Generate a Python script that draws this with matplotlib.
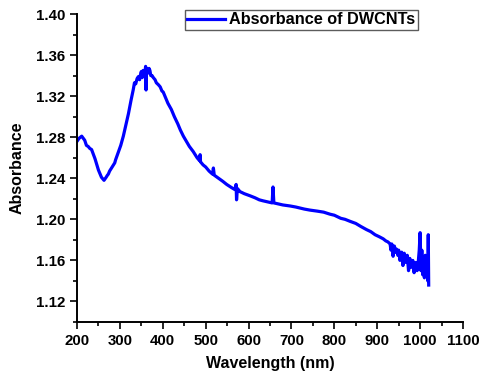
import numpy as np
import matplotlib

matplotlib.use("Agg")
import matplotlib.pyplot as plt
from matplotlib.ticker import MultipleLocator, FormatStrFormatter

plt.rcParams["font.family"] = ["Liberation Sans", "DejaVu Sans"]
plt.rcParams["font.weight"] = "bold"

# wavelength (nm) and absorbance, spikes included
wavelength = [
    200, 205, 211, 218, 222, 226, 230, 234, 242, 250, 257, 263, 268, 271, 273,
    276, 279, 285, 288, 290, 296, 302, 308, 314, 320, 326, 331, 334, 337, 340,
    343, 346, 348, 350, 352, 354, 355, 357, 358, 359, 360, 361, 362, 364, 366,
    368, 370, 372, 375, 378, 382, 385, 390, 394, 398, 401, 405, 412, 420, 427,
    435, 441, 448, 455, 462, 471, 480, 486, 487, 488, 494, 500, 508, 516, 518,
    520, 530, 540, 549, 560, 568, 571, 572, 574, 580, 590, 603, 615, 625, 634,
    645, 655, 657, 659, 670, 680, 697, 710, 720, 730, 743, 760, 775, 790, 800,
    815, 825, 837, 850, 862, 875, 885, 895, 905, 914, 920, 925, 930, 932, 934,
    937, 940, 943, 945, 948, 950, 953, 955, 957, 960, 963, 965, 967, 970, 973,
    976, 978, 980, 983, 986, 988, 990, 993, 996, 998, 1000, 1002, 1004, 1006,
    1008, 1010, 1012, 1014, 1016, 1018, 1019, 1020,
]
absorbance = [
    1.276, 1.279, 1.281, 1.277, 1.272, 1.271, 1.269, 1.268, 1.259, 1.248,
    1.241, 1.238, 1.241, 1.243, 1.244, 1.247, 1.249, 1.253, 1.255, 1.258,
    1.265, 1.272, 1.281, 1.292, 1.303, 1.316, 1.326, 1.333, 1.332, 1.337,
    1.339, 1.336, 1.341, 1.344, 1.338, 1.345, 1.344, 1.339, 1.342, 1.346,
    1.349, 1.326, 1.347, 1.342, 1.343, 1.347, 1.345, 1.340, 1.340, 1.338,
    1.336, 1.333, 1.331, 1.329, 1.325, 1.324, 1.320, 1.313, 1.307, 1.300,
    1.293, 1.287, 1.281, 1.276, 1.271, 1.266, 1.260, 1.257, 1.263, 1.256,
    1.253, 1.251, 1.247, 1.244, 1.250, 1.243, 1.240, 1.237, 1.234, 1.231,
    1.229, 1.234, 1.219, 1.230, 1.227, 1.225, 1.223, 1.221, 1.219, 1.218,
    1.217, 1.216, 1.2315, 1.216, 1.215, 1.214, 1.213, 1.212, 1.211, 1.210,
    1.209, 1.208, 1.207, 1.205, 1.204, 1.201, 1.200, 1.198, 1.196, 1.193,
    1.190, 1.188, 1.185, 1.183, 1.181, 1.179, 1.178, 1.176, 1.170, 1.176,
    1.164, 1.174, 1.168, 1.171, 1.165, 1.170, 1.160, 1.167, 1.168, 1.155,
    1.167, 1.160, 1.158, 1.165, 1.150, 1.162, 1.153, 1.155, 1.160, 1.148,
    1.157, 1.158, 1.150, 1.160, 1.170, 1.187, 1.150, 1.170, 1.146, 1.160,
    1.143, 1.165, 1.145, 1.158, 1.140, 1.185, 1.136,
]

fg = plt.figure(figsize=(4.8, 3.79), dpi=100)
ax = fg.add_axes([77 / 480, 1 - 322 / 379, 386 / 480, 308 / 379])

ax.plot(wavelength, absorbance, color="#0000ff", lw=2.3,
        label="Absorbance of DWCNTs")

ax.set_xlim([200, 1100])
ax.set_ylim([1.10, 1.40])
ax.xaxis.set_major_locator(MultipleLocator(100))
ax.xaxis.set_minor_locator(MultipleLocator(50))
ax.set_yticks(np.arange(1.12, 1.401, 0.04))
ax.yaxis.set_minor_locator(MultipleLocator(0.02))
ax.yaxis.set_major_formatter(FormatStrFormatter("%.2f"))

for side in ["top", "right"]:
    ax.spines[side].set_visible(False)
for side in ["left", "bottom"]:
    ax.spines[side].set_linewidth(1.4)
ax.tick_params(which="major", direction="out", length=5, width=1.2,
               labelsize=10.8)
ax.tick_params(which="minor", direction="out", length=3, width=1.2)

ax.set_xlabel("Wavelength (nm)", fontsize=11.5, fontweight="bold", labelpad=6)
ax.set_ylabel("Absorbance", fontsize=11.5, fontweight="bold", labelpad=8)

leg = ax.legend(loc="upper right", bbox_to_anchor=(418 / 480, 1 - 10 / 379),
                bbox_transform=fg.transFigure, borderaxespad=0,
                prop={"size": 11.7, "weight": "bold"}, fancybox=False,
                handlelength=2.3, handletextpad=0.3, borderpad=0.15)
leg.get_frame().set_edgecolor("#333333")
leg.get_frame().set_linewidth(1.0)

fg.savefig("out.png", dpi=100)
plt.close(fg)
